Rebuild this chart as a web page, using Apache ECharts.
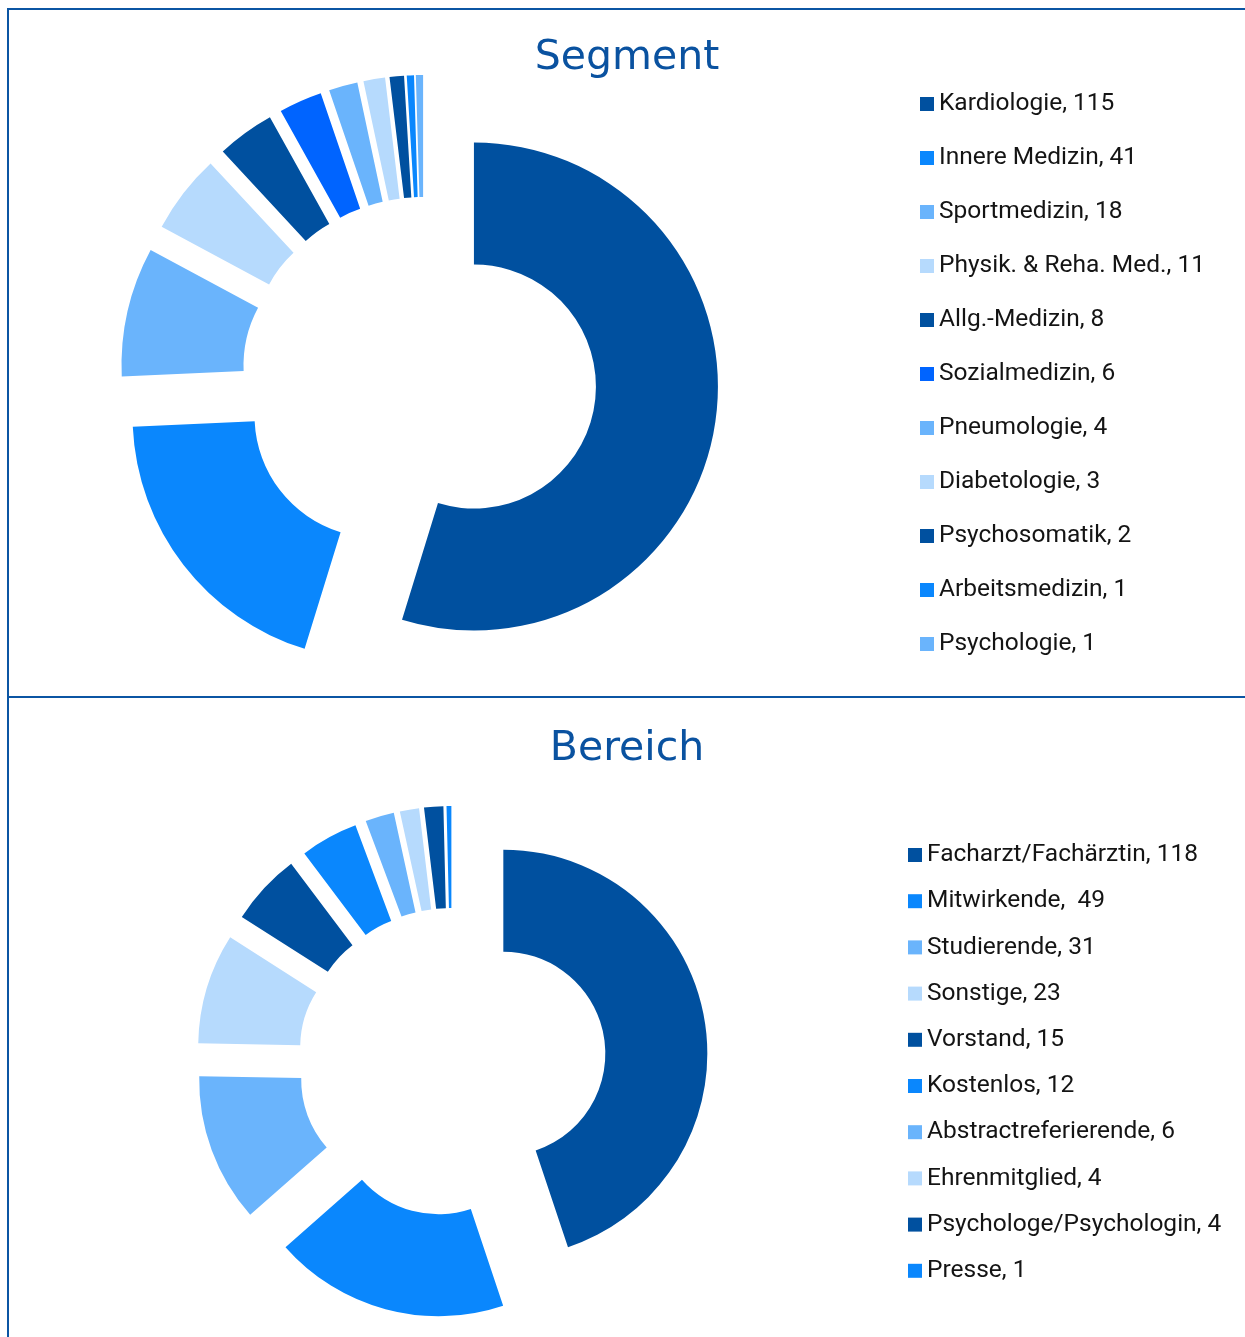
<!DOCTYPE html>
<html>
<head>
<meta charset="utf-8">
<script src="https://cdn.jsdelivr.net/npm/echarts@6/dist/echarts.min.js"></script>
<style>
  html, body { margin: 0; padding: 0; background: #fff; }
  #main { width: 1245px; height: 1337px; }
</style>
</head>
<body>
<div id="main"></div>
<script>
var chart = echarts.init(document.getElementById("main"));

// Segment data
var segmentNames = ["Kardiologie", "Innere Medizin", "Sportmedizin", "Physik. & Reha. Med.",
  "Allg.-Medizin", "Sozialmedizin", "Pneumologie", "Diabetologie", "Psychosomatik",
  "Arbeitsmedizin", "Psychologie"];
var segmentValues = [115, 41, 18, 11, 8, 6, 4, 3, 2, 1, 1];
var segmentColors = ["#00509f", "#0a87fd", "#6ab4fc", "#b6dafd", "#00509f", "#0064ff",
  "#6ab4fc", "#b6dafd", "#00509f", "#0a87fd", "#6ab4fc"];

// Bereich data
var bereichNames = ["Facharzt/Fachärztin", "Mitwirkende", "Studierende", "Sonstige",
  "Vorstand", "Kostenlos", "Abstractreferierende", "Ehrenmitglied",
  "Psychologe/Psychologin", "Presse"];
var bereichValues = [118, 49, 31, 23, 15, 12, 6, 4, 4, 1];
var bereichColors = ["#00509f", "#0a87fd", "#6ab4fc", "#b6dafd", "#00509f", "#0a87fd",
  "#6ab4fc", "#b6dafd", "#00509f", "#0a87fd"];

var lookup = {};

// baut die Daten fuer einen Ring, alle Stuecke "explodiert"
// hide: Index der Stuecke, die in diesem Ring unsichtbar bleiben
function ringData(names, values, colors, hide) {
  return names.map(function (n, i) {
    lookup[n] = values[i];
    var hidden = hide.indexOf(i) >= 0;
    var c = hidden ? "rgba(0,0,0,0)" : colors[i];
    return {
      name: n,
      value: values[i],
      selected: !hidden,
      itemStyle: { color: c },
      select: { itemStyle: { color: c, borderWidth: 0 } }
    };
  });
}

// Kardiologie ist im Original etwas weniger weit herausgezogen als der Rest
var restSum = segmentValues.slice(1).reduce(function (a, b) { return a + b; }, 0);
var kardioData = [
  {
    name: segmentNames[0],
    value: segmentValues[0],
    selected: true,
    itemStyle: { color: segmentColors[0] },
    select: { itemStyle: { color: segmentColors[0], borderWidth: 0 } }
  },
  { name: "", value: restSum, itemStyle: { color: "rgba(0,0,0,0)" } }
];
var segData = ringData(segmentNames, segmentValues, segmentColors, [0]);
var berData = ringData(bereichNames, bereichValues, bereichColors, []);

var titleStyle = {
  fontFamily: "DejaVu Sans",
  fontSize: 41,
  fontWeight: "normal",
  color: "#0a52a0"
};
var legendText = {
  fontFamily: "Roboto",
  fontSize: 24.5,
  color: "#141414",
  lineHeight: 30
};
var lineStyle = { stroke: "#0b55a3", lineWidth: 2 };

function ring(center, radius, offset, data) {
  return {
    type: "pie",
    center: center,
    radius: radius,
    startAngle: 90,
    clockwise: true,
    selectedMode: "multiple",
    selectedOffset: offset,
    avoidLabelOverlap: false,
    label: { show: false },
    labelLine: { show: false },
    emphasis: { disabled: true },
    data: data
  };
}

var option = {
  animation: false,
  title: [
    { text: "Segment", left: 627, top: 38, padding: 0, textAlign: "center", textStyle: titleStyle },
    { text: "Bereich", left: 627, top: 729, padding: 0, textAlign: "center", textStyle: titleStyle }
  ],
  legend: [
    {
      orient: "vertical",
      left: 920,
      top: 89,
      padding: 0,
      itemWidth: 14,
      itemHeight: 14,
      itemGap: 24,
      icon: "rect",
      selectedMode: false,
      data: segmentNames,
      textStyle: legendText,
      formatter: function (name) { return name + ", " + lookup[name]; }
    },
    {
      orient: "vertical",
      left: 908,
      top: 840,
      padding: 0,
      itemWidth: 14,
      itemHeight: 14,
      itemGap: 16.2,
      icon: "rect",
      selectedMode: false,
      data: bereichNames,
      textStyle: legendText,
      formatter: function (name) {
        // im Original steht hier ein doppeltes Leerzeichen
        return name + (name === "Mitwirkende" ? ",  " : ", ") + lookup[name];
      }
    }
  ],
  series: [
    ring([424, 379], [122, 244], 50.5, kardioData),
    ring([424, 379], [122, 244], 60, segData),
    ring([452, 1062], [102, 204], 52, berData)
  ],
  graphic: [
    { type: "line", shape: { x1: 7, y1: 9, x2: 1245, y2: 9 }, style: lineStyle },
    { type: "line", shape: { x1: 8, y1: 8, x2: 8, y2: 1337 }, style: lineStyle },
    { type: "line", shape: { x1: 8, y1: 697, x2: 1245, y2: 697 }, style: lineStyle }
  ]
};

chart.setOption(option);
</script>
</body>
</html>
